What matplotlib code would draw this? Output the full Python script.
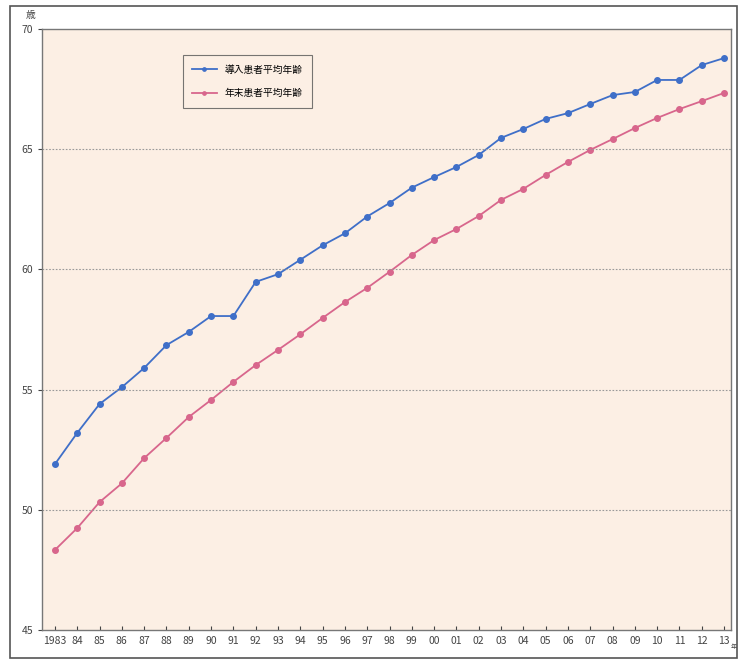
import matplotlib
matplotlib.use('Agg')
import matplotlib.pyplot as plt
from matplotlib.patches import Rectangle

plt.rcParams['font.family'] = ['Noto Sans CJK JP', 'DejaVu Sans']

# データ
years = list(range(1983, 2014))
year_labels = ['1983', '84', '85', '86', '87', '88', '89', '90', '91', '92', '93', '94',
               '95', '96', '97', '98', '99', '00', '01', '02', '03', '04', '05', '06',
               '07', '08', '09', '10', '11', '12', '13']
donyu = [51.9, 53.2, 54.4, 55.1, 55.9, 56.85, 57.4, 58.06, 58.06, 59.48, 59.8, 60.4,
         61.0, 61.5, 62.2, 62.76, 63.4, 63.84, 64.26, 64.76, 65.47, 65.84, 66.26, 66.5,
         66.88, 67.25, 67.38, 67.88, 67.88, 68.5, 68.79]
nenmatsu = [48.33, 49.24, 50.32, 51.1, 52.15, 52.99, 53.86, 54.57, 55.32, 56.02, 56.65,
            57.3, 57.98, 58.64, 59.23, 59.9, 60.6, 61.22, 61.68, 62.22, 62.89, 63.35,
            63.93, 64.47, 64.97, 65.42, 65.88, 66.3, 66.67, 67.0, 67.34]
label1 = '導入患者平均年齢'
label2 = '年末患者平均年齢'

W, H = 739, 661
fig = plt.figure(figsize=(W / 100, H / 100), dpi=100)
fig.patch.set_facecolor('white')

# 外枠
fig.patches.append(Rectangle((10 / W, 3 / H), 727 / W, 652 / H, transform=fig.transFigure,
                             fill=False, edgecolor='#555555', linewidth=1.2))

ax = fig.add_axes([42 / W, 1 - 630 / H, 689 / W, 601 / H])
ax.set_facecolor('#fcefe4')

ax.plot(years, donyu, color='#3f6fc8', marker='o', markersize=4, linewidth=1.3, label=label1)
ax.plot(years, nenmatsu, color='#d8668c', marker='o', markersize=4, linewidth=1.3, label=label2)

ax.set_xlim(1982.42, 2013.31)
ax.set_ylim(45, 70)
ax.set_yticks([45, 50, 55, 60, 65, 70])
ax.set_xticks(years)
ax.set_xticklabels(year_labels)
ax.tick_params(axis='both', labelsize=7.5, colors='#444444', length=3)
ax.tick_params(axis='x', direction='in', pad=4)

for y in [50, 55, 60, 65]:
    ax.axhline(y, color='#999999', linestyle=(0, (1.5, 1.5)), linewidth=0.8)

for s in ax.spines.values():
    s.set_color('#777777')
    s.set_linewidth(1.0)

ax.text(-0.01, 1.015, '歳', transform=ax.transAxes, fontsize=7, ha='right', va='bottom', color='#444444')
ax.text(0.999, -0.022, '年', transform=ax.transAxes, fontsize=4.5, ha='left', va='top', color='#444444')

leg = ax.legend(loc='upper left', bbox_to_anchor=(0.197, 0.965), fontsize=7, frameon=True,
                fancybox=False, edgecolor='#555555', borderpad=1.0, labelspacing=1.4,
                handlelength=2.5, markerscale=0.6)
leg.get_frame().set_linewidth(0.8)
leg.get_frame().set_facecolor('#fcefe4')

plt.savefig('out.png', dpi=100)
